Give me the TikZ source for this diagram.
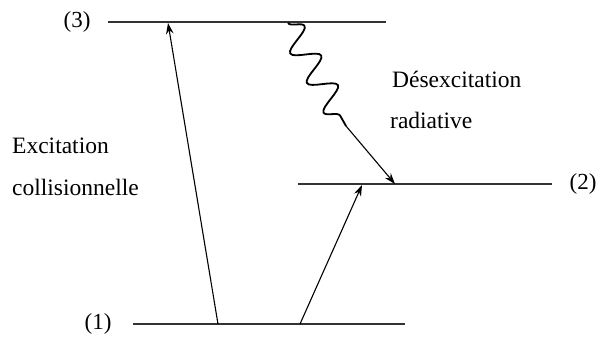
\documentclass[tikz,border=0pt]{standalone}
\usepackage{fontspec}
\setmainfont{Liberation Serif}
\usetikzlibrary{arrows.meta,decorations.pathmorphing}
\begin{document}
\begin{tikzpicture}[x=1pt,y=-1pt,
  level/.style={line width=1.8pt,draw=black!80},
  trans/.style={line width=1.1pt,-{Stealth[length=11pt,width=7.5pt]}},
  wave/.style={line width=1.8pt,decorate,decoration={snake,segment length=34pt,amplitude=13pt}},
  lbl/.style={inner sep=0pt,anchor=base west,font=\rmfamily\fontsize{23.5}{25}\selectfont},
  num/.style={inner sep=0pt,font=\rmfamily\fontsize{23}{25}\selectfont}]
\useasboundingbox (0,0) rectangle (599,338);
% levels
\coordinate (l3a) at (108,22); \coordinate (l3b) at (386,22);
\coordinate (l2a) at (298,184); \coordinate (l2b) at (552,184);
\coordinate (l1a) at (133,324); \coordinate (l1b) at (405,324);
\draw[level] (l3a) -- (l3b);
\draw[level] (l2a) -- (l2b);
\draw[level] (l1a) -- (l1b);
% level labels
\node[num] (n3) at (77,22) {(3)};
\node[num] (n2) at (583,184) {(2)};
\node[num] (n1) at (98,324) {(1)};
% transitions
\coordinate (e1s) at (218,324); \coordinate (e1t) at (168,23);
\coordinate (e2s) at (300,324); \coordinate (e2t) at (362,185);
\coordinate (ws) at (288,23); \coordinate (wm) at (346,126); \coordinate (wt) at (395,184);
\draw[trans] (e1s) -- (e1t);
\draw[trans] (e2s) -- (e2t);
\draw[wave] (ws) -- (wm);
\draw[trans] (wm) -- (wt);
% texts
\node[lbl] (t1) at (12,153) {Excitation};
\node[lbl] (t2) at (12,195) {collisionnelle};
\node[lbl] (t3) at (392,87) {Désexcitation};
\node[lbl] (t4) at (390,128) {radiative};
\end{tikzpicture}
\end{document}
